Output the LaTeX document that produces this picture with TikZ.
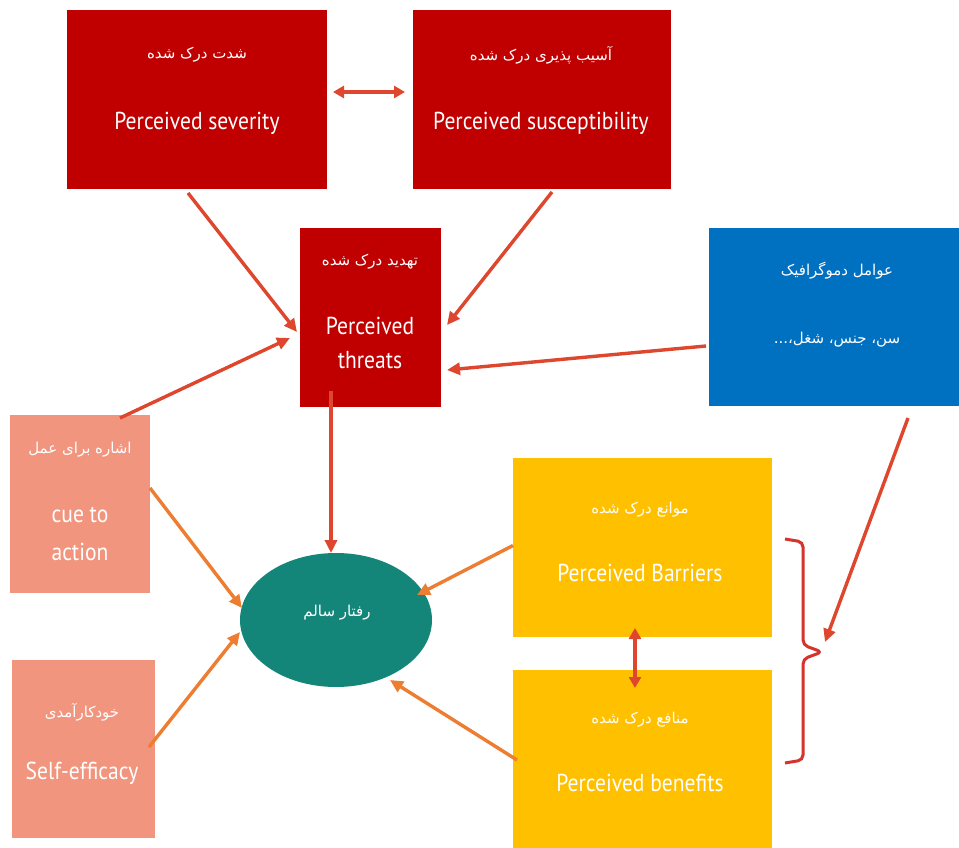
\documentclass[tikz,border=0pt]{standalone}
\usepackage{fontspec}
\setmainfont{PT Sans}[FakeStretch=0.88]
\newfontfamily\fa[Script=Arabic]{DejaVu Sans}
\TeXXeTstate=1
\usetikzlibrary{arrows.meta,shapes.geometric}

\definecolor{boxred}{RGB}{192,0,0}
\definecolor{demoblue}{RGB}{0,112,192}
\definecolor{cuepink}{RGB}{241,149,126}
\definecolor{boxyellow}{RGB}{255,192,0}
\definecolor{healthteal}{RGB}{20,133,121}
\definecolor{linkred}{RGB}{222,70,45}
\definecolor{linkorange}{RGB}{237,125,49}
\definecolor{bracered}{RGB}{212,52,44}

\tikzset{
  panel/.style={draw=none, inner sep=0pt, outer sep=0pt},
  faline/.style={text=white, font=\fa\fontsize{15}{17}\selectfont, inner sep=0pt},
  enline/.style={text=white, font=\fontsize{24.5}{27}\selectfont, inner sep=0pt},
  redlink/.style={draw=linkred, line width=3.4pt, -{Triangle[length=13pt,width=12pt]}},
  orangelink/.style={draw=linkorange, line width=3.4pt, -{Triangle[length=13pt,width=12pt]}},
  twoway/.style={draw=linkred, line width=3.4pt, {Triangle[length=11pt,width=12pt]}-{Triangle[length=11pt,width=12pt]}},
}

\begin{document}
\begin{tikzpicture}[x=1pt,y=-1pt]
\useasboundingbox (0,0) rectangle (959,848);
\fill[white] (0,0) rectangle (959,848);

% boxes
\node[panel, fill=boxred, minimum width=260pt, minimum height=179pt] (sev) at (197,99.5) {};
\node[panel, fill=boxred, minimum width=258pt, minimum height=179pt] (sus) at (542,99.5) {};
\node[panel, fill=boxred, minimum width=141pt, minimum height=179pt] (thr) at (370.5,317) {};
\node[panel, fill=demoblue, minimum width=250pt, minimum height=178pt] (demo) at (834,317) {};
\node[panel, fill=cuepink, minimum width=140pt, minimum height=178pt] (cue) at (80,504) {};
\node[panel, fill=cuepink, minimum width=143pt, minimum height=178pt] (self) at (83.5,749) {};
\node[panel, fill=boxyellow, minimum width=259pt, minimum height=179pt] (bar) at (642.5,547.5) {};
\node[panel, fill=boxyellow, minimum width=259pt, minimum height=178pt] (ben) at (642.5,759) {};
\node[ellipse, panel, fill=healthteal, minimum width=192pt, minimum height=134pt] (ell) at (336,620) {};

% labels
\node[faline] (sevfa) at (197,55) {\beginR شدت درک شده\endR};
\node[enline] (seven) at (197,123) {Perceived severity};
\node[faline] (susfa) at (541,55) {\beginR آسیب پذیری درک شده\endR};
\node[enline] (susen) at (541,123) {Perceived susceptibility};
\node[faline] (thrfa) at (370,262) {\beginR تهدید درک شده\endR};
\node[enline] (thren) at (370,326) {Perceived};
\node[enline] (thren2) at (370,360) {threats};
\node[faline] (demofa) at (837,271) {\beginR عوامل دموگرافیک\endR};
\node[faline] (demofa2) at (837,340) {\beginR سن، جنس، شغل،...\endR};
\node[faline] (cuefa) at (80,450) {\beginR اشاره برای عمل\endR};
\node[enline] (cueen) at (80,515) {cue to};
\node[enline] (cueen2) at (80,552) {action};
\node[faline] (selffa) at (82,712) {\beginR خودکارآمدی\endR};
\node[enline] (selfen) at (82,773) {Self-efficacy};
\node[faline] (ellfa) at (337,613) {\beginR رفتار سالم\endR};
\node[faline] (barfa) at (640,510) {\beginR موانع درک شده\endR};
\node[enline] (baren) at (640,573) {Perceived Barriers};
\node[faline] (benfa) at (640,720) {\beginR منافع درک شده\endR};
\node[enline] (benen) at (640,783) {Perceived benefits};

% brace grouping barriers and benefits
\coordinate (bracetip) at (825,642);
\draw[bracered, line width=3pt, rounded corners=5pt]
  (785,539) -- (803,542) -- (803,645) -- (822,652) -- (803,659) -- (803,760) -- (785,763);

% connectors
\draw[twoway] ([yshift=7.5pt,xshift=6pt]sev.east) -- ([yshift=7.5pt,xshift=-8pt]sus.west);
\draw[redlink] ([xshift=-9pt,yshift=-4pt]sev.south) -- ([xshift=-3pt,yshift=-15pt]thr.west);
\draw[redlink] ([xshift=10pt,yshift=-3pt]sus.south) -- ([xshift=6pt,yshift=-8pt]thr.east);
\draw[redlink] ([xshift=-3pt,yshift=-29pt]demo.west) -- ([xshift=6pt,yshift=-53pt]thr.east);
\draw[redlink] ([xshift=40pt,yshift=-3pt]cue.north) -- ([xshift=-10pt,yshift=-21pt]thr.west);
\draw[redlink] ([xshift=-39.5pt,yshift=16pt]thr.south) -- ([xshift=-5pt]ell.north);
\draw[redlink] ([xshift=74pt,yshift=-12pt]demo.south) -- (bracetip);
\draw[orangelink] ([yshift=16pt]cue.east) -- ([xshift=2pt,yshift=12pt]ell.west);
\draw[orangelink] ([xshift=-6pt,yshift=2pt]self.east) -- ([yshift=-12pt]ell.west);
\draw[orangelink] ([yshift=2pt]bar.west) -- ([xshift=81pt,yshift=25pt]ell.center);
\draw[orangelink] ([xshift=4pt,yshift=-1pt]ben.west) -- ([xshift=54pt,yshift=-60pt]ell.center);
\draw[twoway] ([xshift=-7.5pt,yshift=9pt]bar.south) -- ([xshift=-7.5pt,yshift=-18pt]ben.north);
\end{tikzpicture}
\end{document}
